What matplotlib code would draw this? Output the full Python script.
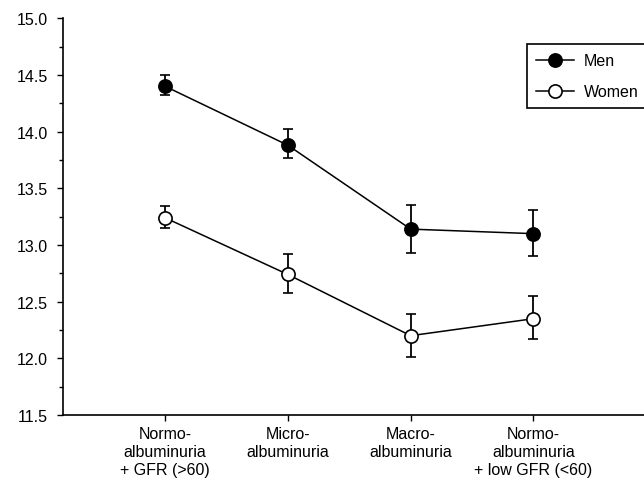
import matplotlib
matplotlib.use("Agg")
from matplotlib import pyplot as plt
from matplotlib.ticker import MultipleLocator, FormatStrFormatter
from matplotlib.lines import Line2D

plt.rcParams['font.family'] = ['Liberation Sans', 'DejaVu Sans']
plt.rcParams['font.size'] = 11.5

# categories on the x axis
groups = ["Normo-\nalbuminuria\n+ GFR (>60)", "Micro-\nalbuminuria",
          "Macro-\nalbuminuria", "Normo-\nalbuminuria\n+ low GFR (<60)"]
xpos = [0, 1, 2, 3]

# means and error bar ends for each sex
men = [14.40, 13.88, 13.14, 13.10]
men_lo = [14.32, 13.77, 12.93, 12.90]
men_hi = [14.50, 14.02, 13.35, 13.31]

women = [13.24, 12.74, 12.20, 12.35]
women_lo = [13.15, 12.58, 12.01, 12.17]
women_hi = [13.34, 12.92, 12.39, 12.55]

fig = plt.figure(figsize=(6.44, 4.81), dpi=100)
ax = fig.add_axes([0.098, 0.135, 0.902, 0.825])

def draw(vals, lo, hi, face):
    err = [[v - l for v, l in zip(vals, lo)], [h - v for v, h in zip(vals, hi)]]
    ax.errorbar(xpos, vals, yerr=err, color='black', lw=1.1, elinewidth=1.3,
                capsize=3.5, capthick=1.3, marker='o', ms=9.5,
                mfc=face, mec='black', mew=1.2, zorder=3)

draw(men, men_lo, men_hi, 'black')
draw(women, women_lo, women_hi, 'white')

ax.set_ylim(11.5, 15.0)
ax.set_xlim(-0.83, 3.9)
ax.yaxis.set_major_locator(MultipleLocator(0.5))
ax.yaxis.set_minor_locator(MultipleLocator(0.25))
ax.yaxis.set_major_formatter(FormatStrFormatter('%.1f'))
ax.set_xticks(xpos)
ax.set_xticklabels(groups, linespacing=1.25)
ax.tick_params(axis='y', which='major', length=4, width=1, pad=7)
ax.tick_params(axis='y', which='minor', length=3, width=1)
ax.tick_params(axis='x', length=4, width=1, pad=4)

for s in ['top', 'right']:
    ax.spines[s].set_visible(False)
for s in ['left', 'bottom']:
    ax.spines[s].set_linewidth(1.2)

# legend handles without the error bars
handles = [Line2D([], [], color='black', lw=1.1, marker='o', ms=9.5,
                  mfc='black', mec='black', mew=1.2),
           Line2D([], [], color='black', lw=1.1, marker='o', ms=9.5,
                  mfc='white', mec='black', mew=1.2)]
leg = ax.legend(handles, ['Men', 'Women'], loc='upper left',
                bbox_to_anchor=(0.799, 0.934), fontsize=11.5,
                frameon=True, fancybox=False, edgecolor='black',
                framealpha=1, handlelength=2.4, labelspacing=1.0,
                borderpad=0.55, handletextpad=0.6, borderaxespad=0)
leg.get_frame().set_linewidth(1.2)

fig.savefig("out.png", dpi=100)
